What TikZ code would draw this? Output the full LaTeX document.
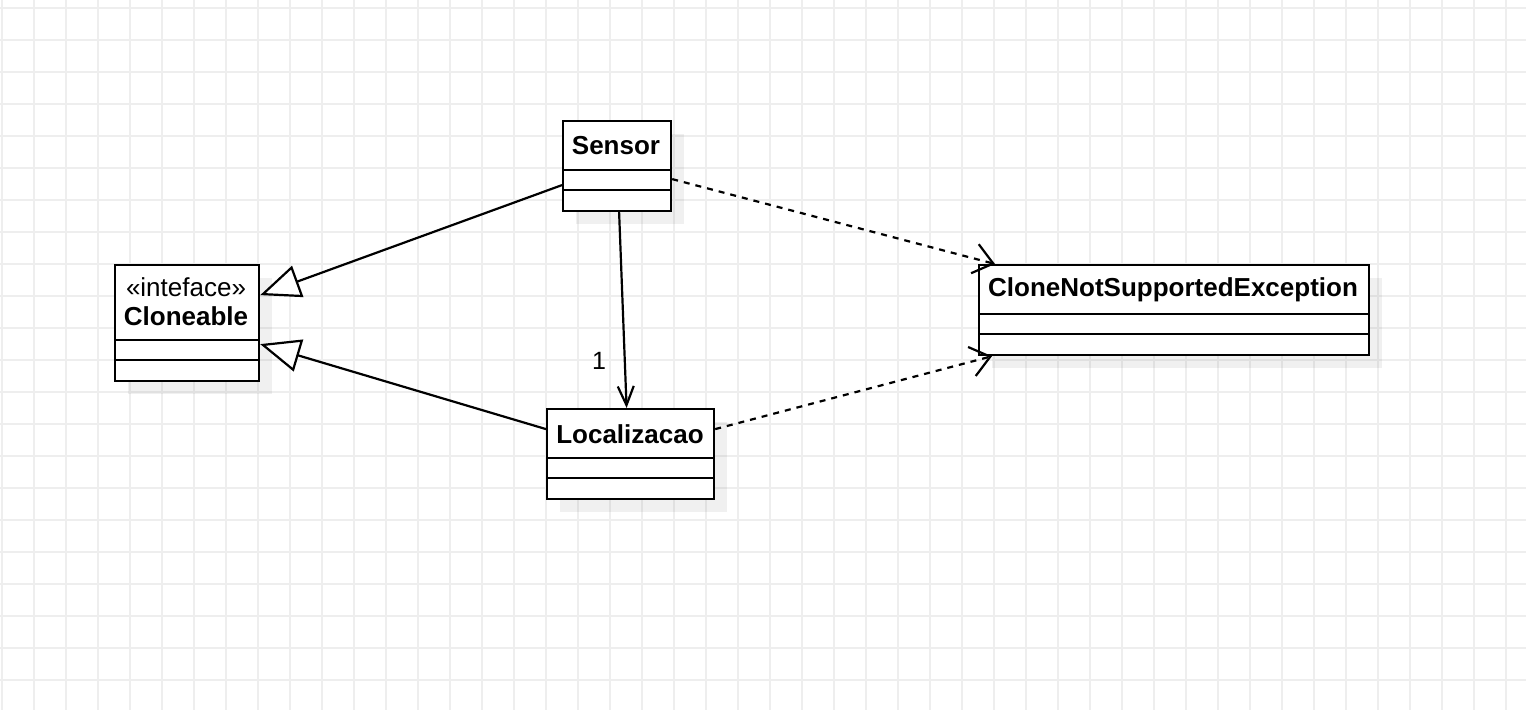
\documentclass[tikz,border=0pt]{standalone}
\usepackage{fontspec}
\setmainfont{Liberation Sans}
\usetikzlibrary{arrows.meta,calc}
\begin{document}
\begin{tikzpicture}[x=1pt,y=-1pt,
  cls/.style={draw=black,line width=2.2pt,fill=white,rectangle,inner sep=0pt,anchor=north west},
  shadowbox/.style={fill=black,fill opacity=0.06},
  divider/.style={draw=black,line width=2.2pt},
  title/.style={font=\bfseries\fontsize{26}{30}\selectfont,inner sep=0pt},
  stereo/.style={font=\fontsize{26}{30}\selectfont,inner sep=0pt},
  lbl/.style={font=\fontsize{25}{29}\selectfont,inner sep=0pt},
  gen/.style={line width=2.2pt,-{Triangle[open,length=40pt,width=33pt,fill=white]}},
  assoc/.style={line width=2.2pt,-{Straight Barb[length=19pt,width=16pt]}},
  dep/.style={line width=2.2pt,dash pattern=on 6pt off 6pt,-{Straight Barb[length=19pt,width=30pt]}},
  gridline/.style={draw={rgb,255:red,238;green,238;blue,238},line width=2pt}
]
\useasboundingbox (0,0) rectangle (1526,710);
\fill[white] (0,0) rectangle (1526,710);
% grid
\foreach \i in {0,...,47} {\draw[gridline] ({1.5+32*\i},0) -- ({1.5+32*\i},710);}
\foreach \j in {0,...,21} {\draw[gridline] (0,{8+32*\j}) -- (1526,{8+32*\j});}

% shadows
\fill[shadowbox] (128,278) rectangle (272,394);
\fill[shadowbox] (576,134) rectangle (684,224);
\fill[shadowbox] (560,422) rectangle (727,512);
\fill[shadowbox] (992,278) rectangle (1382,368);

% Cloneable
\node[cls,minimum width=144pt,minimum height=116pt] (clone) at (114,264) {};
\draw[divider] (114,340) -- (258,340);
\draw[divider] (114,360) -- (258,360);
\node[stereo] (clonest) at (186,287) {«inteface»};
\node[title] (clonet) at (186,316) {Cloneable};

% Sensor
\node[cls,minimum width=108pt,minimum height=90pt] (sensor) at (562,120) {};
\draw[divider] (562,170) -- (670,170);
\draw[divider] (562,190) -- (670,190);
\node[title] (sensort) at (616,146) {Sensor};

% Localizacao
\node[cls,minimum width=167pt,minimum height=90pt] (loc) at (546,408) {};
\draw[divider] (546,458) -- (713,458);
\draw[divider] (546,478) -- (713,478);
\node[title] (loct) at (630,434) {Localizacao};

% CloneNotSupportedException
\node[cls,minimum width=390pt,minimum height=90pt] (cnse) at (978,264) {};
\draw[divider] (978,314) -- (1368,314);
\draw[divider] (978,334) -- (1368,334);
\node[title] (cnset) at (1173,290) {CloneNotSupportedException};

% connectors
\draw[gen] ([yshift=-19pt]sensor.west) -- ([yshift=28pt]clone.east);
\draw[gen] ([yshift=25pt]loc.west) -- ([yshift=-21pt]clone.east);
\draw[assoc] ([xshift=2pt]sensor.south) -- ([xshift=-4pt]loc.north);
\node[lbl] (mult) at (599,361) {1};
\draw[dep] ([yshift=-13pt]sensor.east) -- ([xshift=17pt]cnse.north west);
\draw[dep] ([yshift=25pt]loc.east) -- ([xshift=14pt]cnse.south west);
\end{tikzpicture}
\end{document}
